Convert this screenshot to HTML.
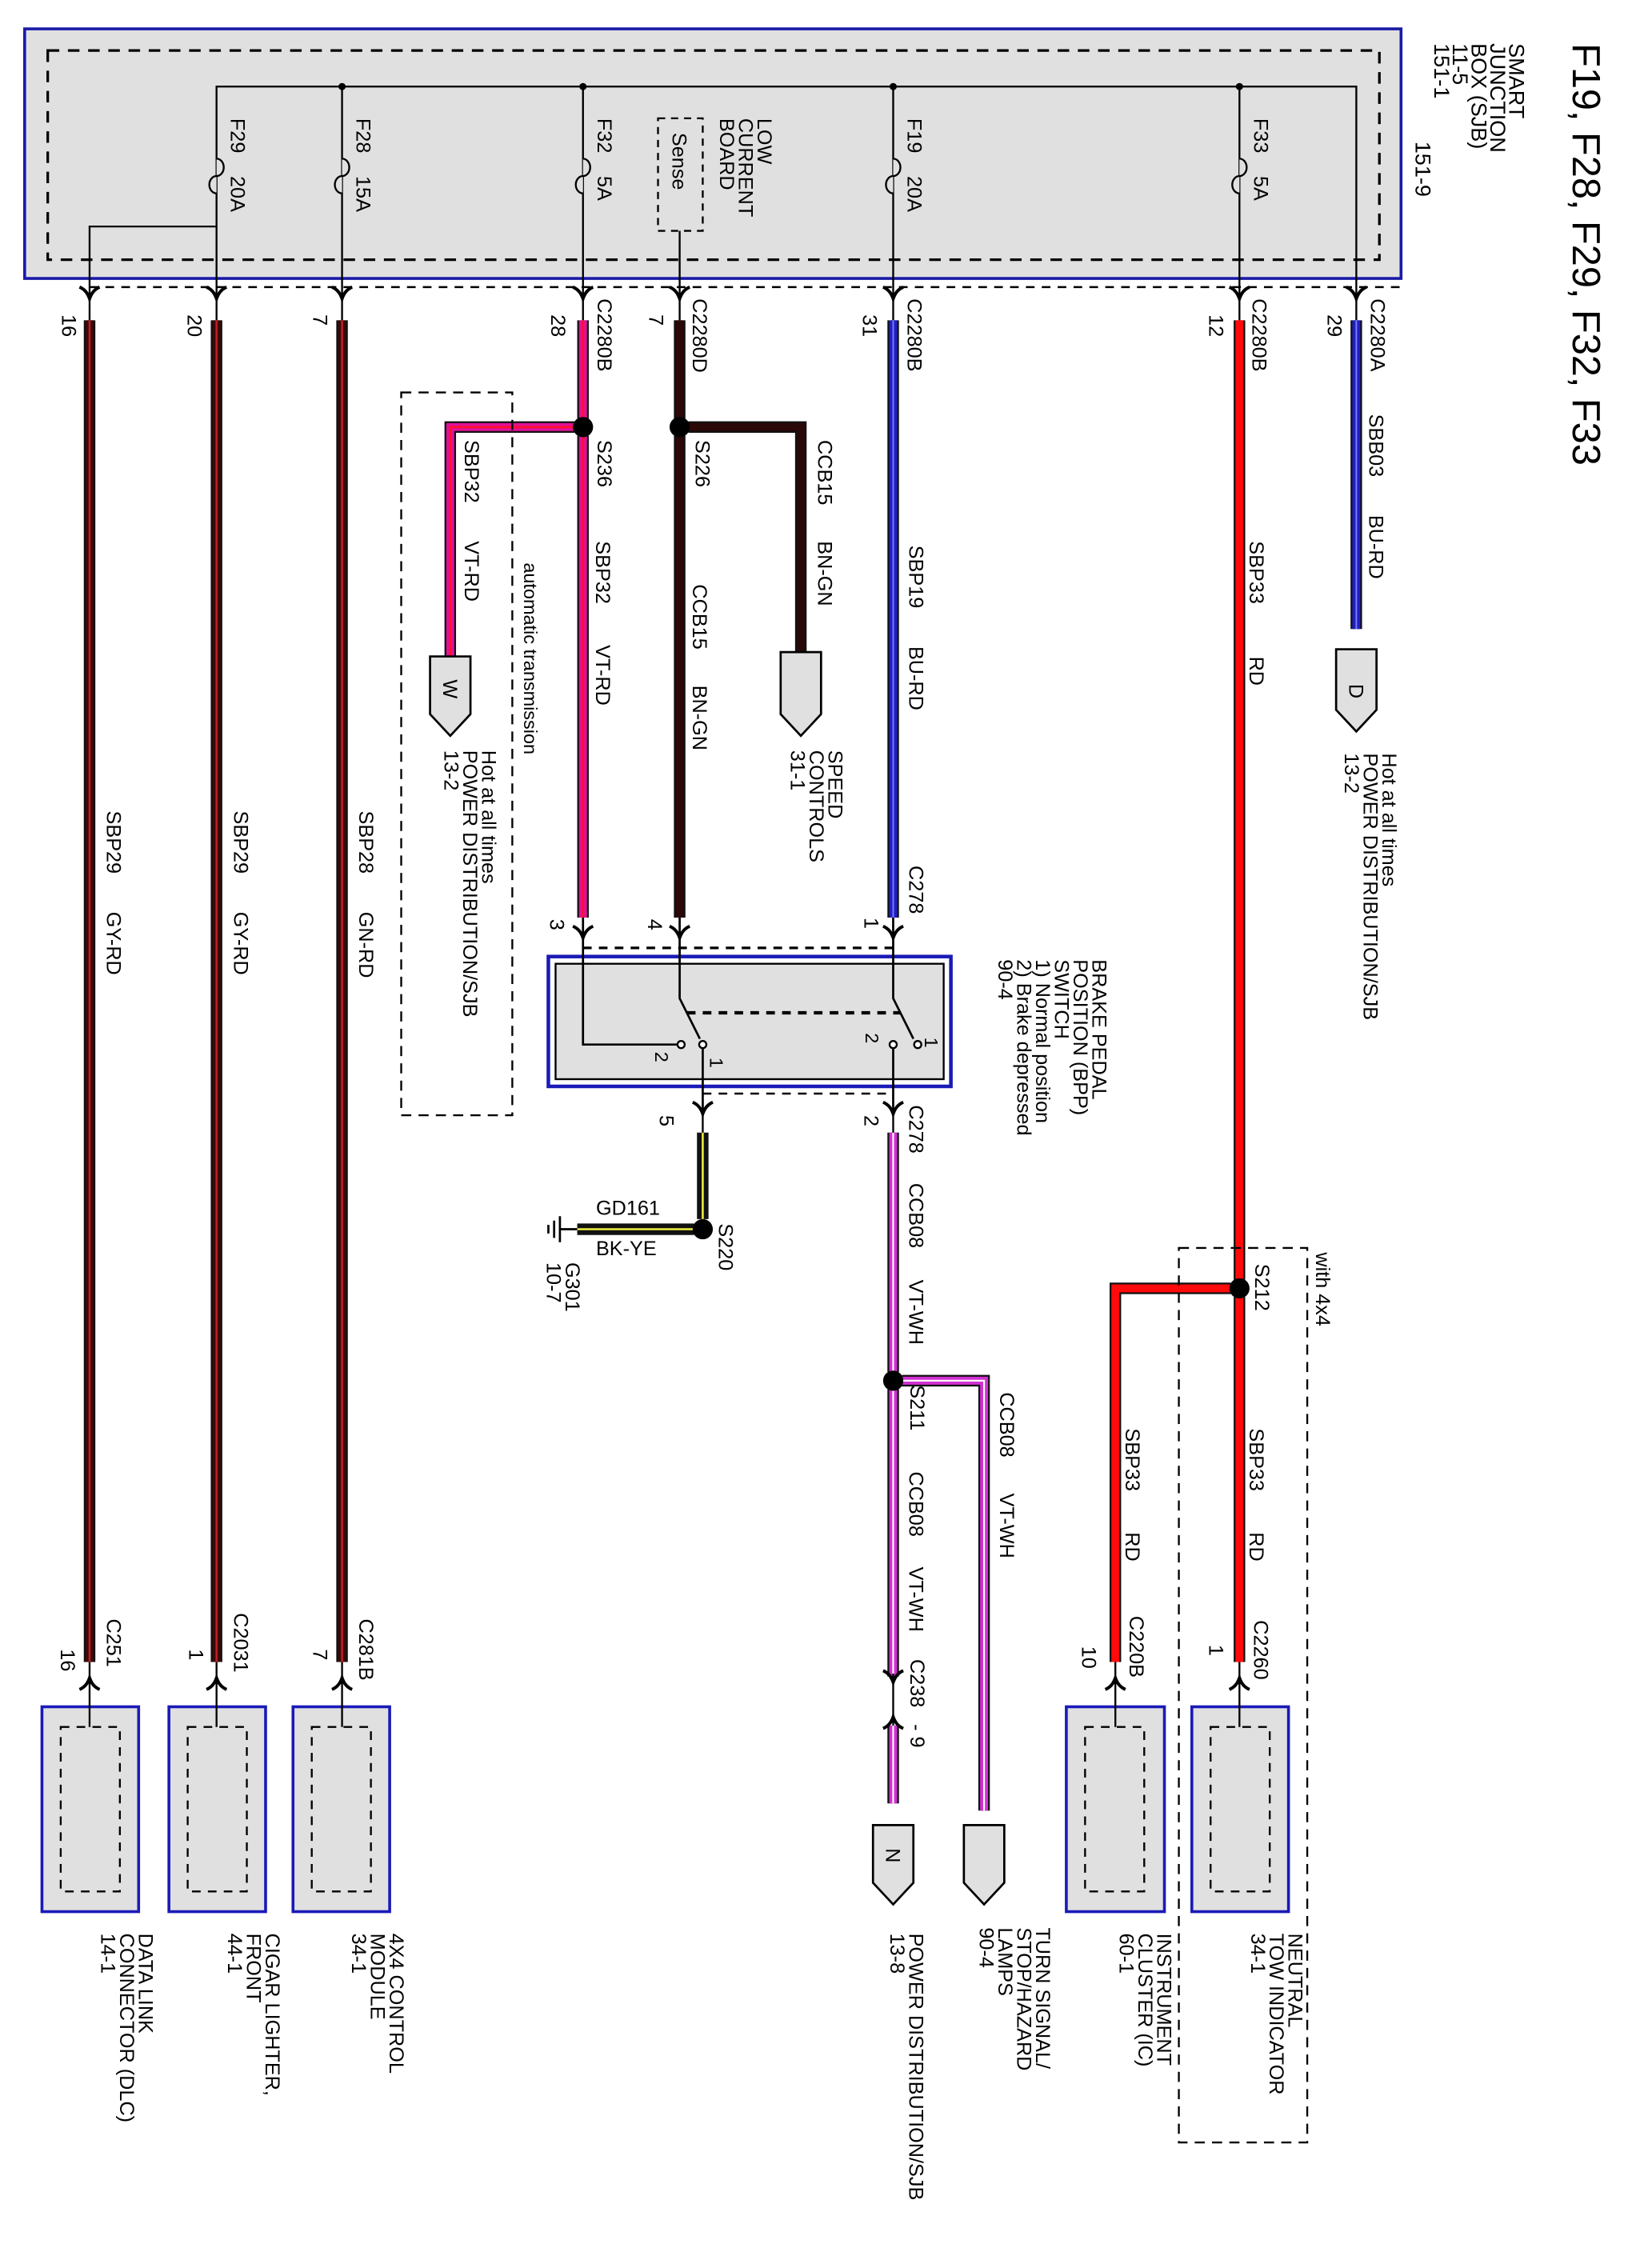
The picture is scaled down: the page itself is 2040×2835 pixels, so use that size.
<!DOCTYPE html>
<html><head><meta charset="utf-8"><style>
html,body{margin:0;padding:0;background:#fff;}
svg{display:block;}
text{font-family:"Liberation Sans",Arial,sans-serif;fill:#000;}
</style></head><body>
<svg width="2040" height="2835" viewBox="0 0 1131 1572" xmlns="http://www.w3.org/2000/svg">
<defs>
<g id="cd"><path d="M-7,-8 Q-2,-6 0,0 Q2,-6 7,-8" fill="none" stroke="#000" stroke-width="2.2"/><path d="M-3,-4 L0,2 L3,-4 Z" fill="#000"/></g>
<g id="cu"><path d="M-7,8 Q-2,6 0,0 Q2,6 7,8" fill="none" stroke="#000" stroke-width="2.2"/><path d="M-3,4 L0,-2 L3,4 Z" fill="#000"/></g>
</defs>
<rect width="1131" height="1572" fill="#fff"/>

<rect x="17" y="20" width="954" height="173" fill="#e0e0e0" stroke="#1a1aa8" stroke-width="2"/>
<rect x="33" y="35" width="923" height="145" fill="none" stroke="#000" stroke-width="1.8" stroke-dasharray="8,6"/>
<line x1="62" y1="199" x2="971" y2="199" stroke="#000" stroke-width="1.4" stroke-dasharray="6,5"/>
<g stroke="#000" stroke-width="1.3" fill="none">
<path d="M150,205 V60 H940 V205"/>
<path d="M150,157 H62 V205"/>
<path d="M237,60 V205 M404,60 V205 M619,60 V205 M859,60 V205 M471,160 V205"/>
</g>
<g fill="#000"><circle cx="237" cy="60" r="2.5"/><circle cx="404" cy="60" r="2.5"/><circle cx="619" cy="60" r="2.5"/><circle cx="859" cy="60" r="2.5"/></g>
<g stroke="#000" stroke-width="1.3" fill="#e0e0e0">
<path d="M150,110 a5,6 0 0 1 0,12 a5,6 0 0 0 0,12" />
<path d="M237,110 a5,6 0 0 1 0,12 a5,6 0 0 0 0,12" />
<path d="M404,110 a5,6 0 0 1 0,12 a5,6 0 0 0 0,12" />
<path d="M619,110 a5,6 0 0 1 0,12 a5,6 0 0 0 0,12" />
<path d="M859,110 a5,6 0 0 1 0,12 a5,6 0 0 0 0,12" />
</g>
<rect x="456" y="82" width="31" height="78" fill="#e0e0e0" stroke="#000" stroke-width="1.3" stroke-dasharray="5,4"/>

<g font-size="14">
<text transform="translate(160,82) rotate(90)">F29</text><text transform="translate(160,122) rotate(90)">20A</text>
<text transform="translate(247,82) rotate(90)">F28</text><text transform="translate(247,122) rotate(90)">15A</text>
<text transform="translate(414,82) rotate(90)">F32</text><text transform="translate(414,122) rotate(90)">5A</text>
<text transform="translate(629,82) rotate(90)">F19</text><text transform="translate(629,122) rotate(90)">20A</text>
<text transform="translate(869,82) rotate(90)">F33</text><text transform="translate(869,122) rotate(90)">5A</text>
<text transform="translate(466,92) rotate(90)">Sense</text>
<text transform="translate(525,82) rotate(90)"><tspan x="0" y="0">LOW</tspan><tspan x="0" dy="13">CURRENT</tspan><tspan x="0" dy="13">BOARD</tspan></text>
<text transform="translate(1046,30) rotate(90)" font-size="15"><tspan x="0" y="0">SMART</tspan><tspan x="0" dy="13">JUNCTION</tspan><tspan x="0" dy="13">BOX (SJB)</tspan><tspan x="0" dy="13">11-5</tspan><tspan x="0" dy="13">151-1</tspan></text>
<text transform="translate(981,98) rotate(90)" font-size="15">151-9</text>
</g>
<text transform="translate(1090,30) rotate(90)" font-size="27">F19, F28, F29, F32, F33</text>

<use href="#cd" x="62" y="207"/><use href="#cd" x="150" y="207"/><use href="#cd" x="237" y="207"/><use href="#cd" x="404" y="207"/><use href="#cd" x="471" y="207"/><use href="#cd" x="619" y="207"/><use href="#cd" x="859" y="207"/><use href="#cd" x="940" y="207"/>
<g stroke="#000" stroke-width="1.3"><path d="M62,205 V222 M150,205 V222 M237,205 V222 M404,205 V222 M471,205 V222 M619,205 V222 M859,205 V222 M940,205 V222"/></g>

<g fill="none" stroke-linejoin="miter">
<g stroke="#111" stroke-width="8"><path d="M62,222 V1152 M150,222 V1152 M237,222 V1152"/></g>
<g stroke="#3a0a0a" stroke-width="5.5"><path d="M62,222 V1152 M150,222 V1152 M237,222 V1152"/></g>
<g stroke="#c02020" stroke-width="1.4"><path d="M62,222 V1152 M150,222 V1152 M237,222 V1152"/></g>
<g stroke="#111" stroke-width="8"><path d="M404,222 V290 M404,302 V636 M398,296 H312 V455"/></g>
<g stroke="#e0109a" stroke-width="5.5"><path d="M404,222 V290 M404,302 V636 M398,296 H312 V455"/></g>
<g stroke="#ff1030" stroke-width="1.6"><path d="M404,222 V290 M404,302 V636 M398,296 H312 V455"/></g>
<g stroke="#111" stroke-width="8"><path d="M471,222 V290 M471,302 V636 M477,296 H555 V452"/></g>
<g stroke="#2a0808" stroke-width="5.5"><path d="M471,222 V290 M471,302 V636 M477,296 H555 V452"/></g>
<g stroke="#111" stroke-width="8"><path d="M619,222 V636 M940,222 V436"/></g>
<g stroke="#2020c0" stroke-width="5.5"><path d="M619,222 V636 M940,222 V436"/></g>
<g stroke="#8080ff" stroke-width="1"><path d="M619,222 V636 M940,222 V436"/></g>
<g stroke="#111" stroke-width="8"><path d="M859,222 V887 M859,899 V1152 M853,893 H773 V1152"/></g>
<g stroke="#ff0a0a" stroke-width="5.5"><path d="M859,222 V887 M859,899 V1152 M853,893 H773 V1152"/></g>
<g stroke="#111" stroke-width="8"><path d="M619,785 V951 M619,963 V1162 M619,1196 V1250 M625,957 H682 V1255"/></g>
<g stroke="#d030d0" stroke-width="5.5"><path d="M619,785 V951 M619,963 V1162 M619,1196 V1250 M625,957 H682 V1255"/></g>
<g stroke="#fff" stroke-width="1.2"><path d="M619,785 V951 M619,963 V1162 M619,1196 V1250 M625,957 H682 V1255"/></g>
<g stroke="#111" stroke-width="8"><path d="M487,785 V845 M481,852 H400"/></g>
<g stroke="#f0f040" stroke-width="1.4"><path d="M487,785 V845 M481,852 H400"/></g>
</g>
<g fill="#000"><circle cx="404" cy="296" r="7"/><circle cx="471" cy="296" r="7"/><circle cx="859" cy="893" r="7"/><circle cx="619" cy="957" r="7"/><circle cx="487" cy="852" r="7"/></g>
<g stroke="#000" stroke-width="1.5"><path d="M400,852 H388 M388,843 V861 M384,846 V858 M380,849 V855"/></g>

<g fill="#e0e0e0" stroke="#000" stroke-width="1.5">
<path d="M298,455 H326 V495 L312,510 L298,495 Z"/>
<path d="M541,452 H569 V495 L555,510 L541,495 Z"/>
<path d="M926,450 H954 V492 L940,507 L926,492 Z"/>
<path d="M605,1265 H633 V1305 L619,1320 L605,1305 Z"/>
<path d="M668,1265 H696 V1305 L682,1320 L668,1305 Z"/>
</g>
<g font-size="14"><text transform="translate(307,471) rotate(90)">W</text><text transform="translate(935,474) rotate(90)">D</text><text transform="translate(614,1281) rotate(90)">N</text></g>

<rect x="278" y="272" width="77" height="501" fill="none" stroke="#000" stroke-width="1.3" stroke-dasharray="7,5"/>
<rect x="817" y="865" width="89" height="620" fill="none" stroke="#000" stroke-width="1.3" stroke-dasharray="7,5"/>

<line x1="404" y1="657" x2="619" y2="657" stroke="#000" stroke-width="1.8" stroke-dasharray="6,5"/>
<line x1="487" y1="758" x2="619" y2="758" stroke="#000" stroke-width="1.4" stroke-dasharray="6,5"/>
<use href="#cd" x="404" y="650"/><use href="#cd" x="471" y="650"/><use href="#cd" x="619" y="650"/>
<rect x="380" y="663" width="279" height="90" fill="#fff" stroke="#1a1ab8" stroke-width="2.5"/>
<rect x="385" y="668" width="269" height="80" fill="#e0e0e0" stroke="#000" stroke-width="1.3"/>
<g stroke="#000" stroke-width="1.5" fill="none">
<path d="M404,636 V724 H470"/>
<path d="M471,636 V692 L485,720"/>
<path d="M619,636 V692 L633,720"/>
<path d="M487,724 V770 M619,724 V770"/>
<path d="M476,702 H624" stroke-dasharray="6,5" stroke-width="2.4"/>
</g>
<g fill="#fff" stroke="#000" stroke-width="1.3"><circle cx="472" cy="724" r="2.5"/><circle cx="487" cy="724" r="2.5"/><circle cx="619" cy="724" r="2.5"/><circle cx="636" cy="724" r="2.5"/></g>
<use href="#cd" x="487" y="772"/><use href="#cd" x="619" y="772"/>
<g stroke="#000" stroke-width="1.3"><path d="M487,770 V785 M619,770 V785"/></g>
<g font-size="13">
<text transform="translate(454,729) rotate(90)">2</text><text transform="translate(492,733) rotate(90)">1</text>
<text transform="translate(600,716) rotate(90)">2</text><text transform="translate(641,719) rotate(90)">1</text>
</g>

<use href="#cd" x="619" y="1166"/><use href="#cu" x="619" y="1190"/>
<g stroke="#000" stroke-width="1.3"><path d="M619,1160 V1196"/></g>

<g>
<rect x="29" y="1183" width="67" height="142" fill="#e0e0e0" stroke="#1a1ab8" stroke-width="2"/>
<rect x="117" y="1183" width="67" height="142" fill="#e0e0e0" stroke="#1a1ab8" stroke-width="2"/>
<rect x="203" y="1183" width="67" height="142" fill="#e0e0e0" stroke="#1a1ab8" stroke-width="2"/>
<rect x="739" y="1183" width="68" height="142" fill="#e0e0e0" stroke="#1a1ab8" stroke-width="2"/>
<rect x="826" y="1183" width="67" height="142" fill="#e0e0e0" stroke="#1a1ab8" stroke-width="2"/>
</g>
<g fill="none" stroke="#000" stroke-width="1.3" stroke-dasharray="6,5">
<rect x="42" y="1197" width="41" height="114"/><rect x="130" y="1197" width="41" height="114"/><rect x="216" y="1197" width="41" height="114"/><rect x="752" y="1197" width="41" height="114"/><rect x="839" y="1197" width="41" height="114"/>
</g>
<g stroke="#000" stroke-width="1.3"><path d="M62,1152 V1197 M150,1152 V1197 M237,1152 V1197 M773,1152 V1197 M859,1152 V1197"/></g>
<use href="#cu" x="62" y="1163"/><use href="#cu" x="150" y="1163"/><use href="#cu" x="237" y="1163"/><use href="#cu" x="773" y="1163"/><use href="#cu" x="859" y="1163"/>

<g font-size="14">
<text transform="translate(950,207) rotate(90)">C2280A</text><text transform="translate(920,218) rotate(90)">29</text>
<text transform="translate(949,287) rotate(90)">SBB03</text><text transform="translate(949,357) rotate(90)">BU-RD</text>
<text transform="translate(958,522) rotate(90)"><tspan x="0" y="0">Hot at all times</tspan><tspan x="0" dy="13">POWER DISTRIBUTION/SJB</tspan><tspan x="0" dy="13">13-2</tspan></text>
<text transform="translate(868,207) rotate(90)">C2280B</text><text transform="translate(838,218) rotate(90)">12</text>
<text transform="translate(866,375) rotate(90)">SBP33</text><text transform="translate(866,455) rotate(90)">RD</text>
<text transform="translate(912,868) rotate(90)">with 4x4</text>
<text transform="translate(870,876) rotate(90)">S212</text>
<text transform="translate(866,990) rotate(90)">SBP33</text><text transform="translate(866,1062) rotate(90)">RD</text>
<text transform="translate(780,990) rotate(90)">SBP33</text><text transform="translate(780,1062) rotate(90)">RD</text>
<text transform="translate(869,1123) rotate(90)">C2260</text><text transform="translate(838,1140) rotate(90)">1</text>
<text transform="translate(783,1120) rotate(90)">C220B</text><text transform="translate(750,1141) rotate(90)">10</text>
<text transform="translate(893,1340) rotate(90)"><tspan x="0" y="0">NEUTRAL</tspan><tspan x="0" dy="13">TOW INDICATOR</tspan><tspan x="0" dy="13">34-1</tspan></text>
<text transform="translate(802,1340) rotate(90)"><tspan x="0" y="0">INSTRUMENT</tspan><tspan x="0" dy="13">CLUSTER (IC)</tspan><tspan x="0" dy="13">60-1</tspan></text>
<text transform="translate(718,1336) rotate(90)"><tspan x="0" y="0">TURN SIGNAL/</tspan><tspan x="0" dy="13">STOP/HAZARD</tspan><tspan x="0" dy="13">LAMPS</tspan><tspan x="0" dy="13">90-4</tspan></text>
<text transform="translate(630,1340) rotate(90)"><tspan x="0" y="0">POWER DISTRIBUTION/SJB</tspan><tspan x="0" dy="13">13-8</tspan></text>
<text transform="translate(631,1150) rotate(90)">C238</text><text transform="translate(631,1195) rotate(90)">- 9</text>
<text transform="translate(631,960) rotate(90)">S211</text>
<text transform="translate(630,1020) rotate(90)">CCB08</text><text transform="translate(630,1086) rotate(90)">VT-WH</text>
<text transform="translate(693,965) rotate(90)">CCB08</text><text transform="translate(693,1035) rotate(90)">VT-WH</text>
<text transform="translate(630,766) rotate(90)">C278</text><text transform="translate(599,773) rotate(90)">2</text>
<text transform="translate(630,820) rotate(90)">CCB08</text><text transform="translate(630,887) rotate(90)">VT-WH</text>
<text transform="translate(630,600) rotate(90)">C278</text><text transform="translate(599,636) rotate(90)">1</text>
<text transform="translate(630,378) rotate(90)">SBP19</text><text transform="translate(630,448) rotate(90)">BU-RD</text>
<text transform="translate(629,207) rotate(90)">C2280B</text><text transform="translate(598,218) rotate(90)">31</text>
<text transform="translate(480,207) rotate(90)">C2280D</text><text transform="translate(450,218) rotate(90)">7</text>
<text transform="translate(414,207) rotate(90)">C2280B</text><text transform="translate(382,218) rotate(90)">28</text>
<text transform="translate(567,305) rotate(90)">CCB15</text><text transform="translate(567,375) rotate(90)">BN-GN</text>
<text transform="translate(574,520) rotate(90)"><tspan x="0" y="0">SPEED</tspan><tspan x="0" dy="13">CONTROLS</tspan><tspan x="0" dy="13">31-1</tspan></text>
<text transform="translate(482,305) rotate(90)">S226</text>
<text transform="translate(480,405) rotate(90)">CCB15</text><text transform="translate(480,475) rotate(90)">BN-GN</text>
<text transform="translate(414,305) rotate(90)">S236</text>
<text transform="translate(413,375) rotate(90)">SBP32</text><text transform="translate(413,447) rotate(90)">VT-RD</text>
<text transform="translate(322,305) rotate(90)">SBP32</text><text transform="translate(322,375) rotate(90)">VT-RD</text>
<text transform="translate(363,390) rotate(90)" font-size="13">automatic transmission</text>
<text transform="translate(334,520) rotate(90)"><tspan x="0" y="0">Hot at all times</tspan><tspan x="0" dy="13">POWER DISTRIBUTION/SJB</tspan><tspan x="0" dy="13">13-2</tspan></text>
<text transform="translate(449,637) rotate(90)">4</text><text transform="translate(381,637) rotate(90)">3</text>
<text transform="translate(757,665) rotate(90)"><tspan x="0" y="0">BRAKE PEDAL</tspan><tspan x="0" dy="13">POSITION (BPP)</tspan><tspan x="0" dy="13">SWITCH</tspan><tspan x="0" dy="13">1) Normal position</tspan><tspan x="0" dy="13">2) Brake depressed</tspan><tspan x="0" dy="13">90-4</tspan></text>
<text transform="translate(457,773) rotate(90)">5</text>
<text transform="translate(498,848) rotate(90)">S220</text>
<text x="413" y="842">GD161</text><text x="413" y="870">BK-YE</text>
<text transform="translate(392,875) rotate(90)"><tspan x="0" y="0">G301</tspan><tspan x="0" dy="13">10-7</tspan></text>
<text transform="translate(74,562) rotate(90)">SBP29</text><text transform="translate(74,632) rotate(90)">GY-RD</text>
<text transform="translate(162,562) rotate(90)">SBP29</text><text transform="translate(162,632) rotate(90)">GY-RD</text>
<text transform="translate(249,562) rotate(90)">SBP28</text><text transform="translate(249,632) rotate(90)">GN-RD</text>
<text transform="translate(43,218) rotate(90)">16</text><text transform="translate(130,218) rotate(90)">20</text><text transform="translate(217,218) rotate(90)">7</text>
<text transform="translate(74,1122) rotate(90)">C251</text><text transform="translate(42,1143) rotate(90)">16</text>
<text transform="translate(162,1118) rotate(90)">C2031</text><text transform="translate(131,1143) rotate(90)">1</text>
<text transform="translate(249,1122) rotate(90)">C281B</text><text transform="translate(217,1143) rotate(90)">7</text>
<text transform="translate(96,1340) rotate(90)"><tspan x="0" y="0">DATA LINK</tspan><tspan x="0" dy="13">CONNECTOR (DLC)</tspan><tspan x="0" dy="13">14-1</tspan></text>
<text transform="translate(184,1340) rotate(90)"><tspan x="0" y="0">CIGAR LIGHTER,</tspan><tspan x="0" dy="13">FRONT</tspan><tspan x="0" dy="13">44-1</tspan></text>
<text transform="translate(270,1340) rotate(90)"><tspan x="0" y="0">4X4 CONTROL</tspan><tspan x="0" dy="13">MODULE</tspan><tspan x="0" dy="13">34-1</tspan></text>
</g>
</svg>
</body></html>
